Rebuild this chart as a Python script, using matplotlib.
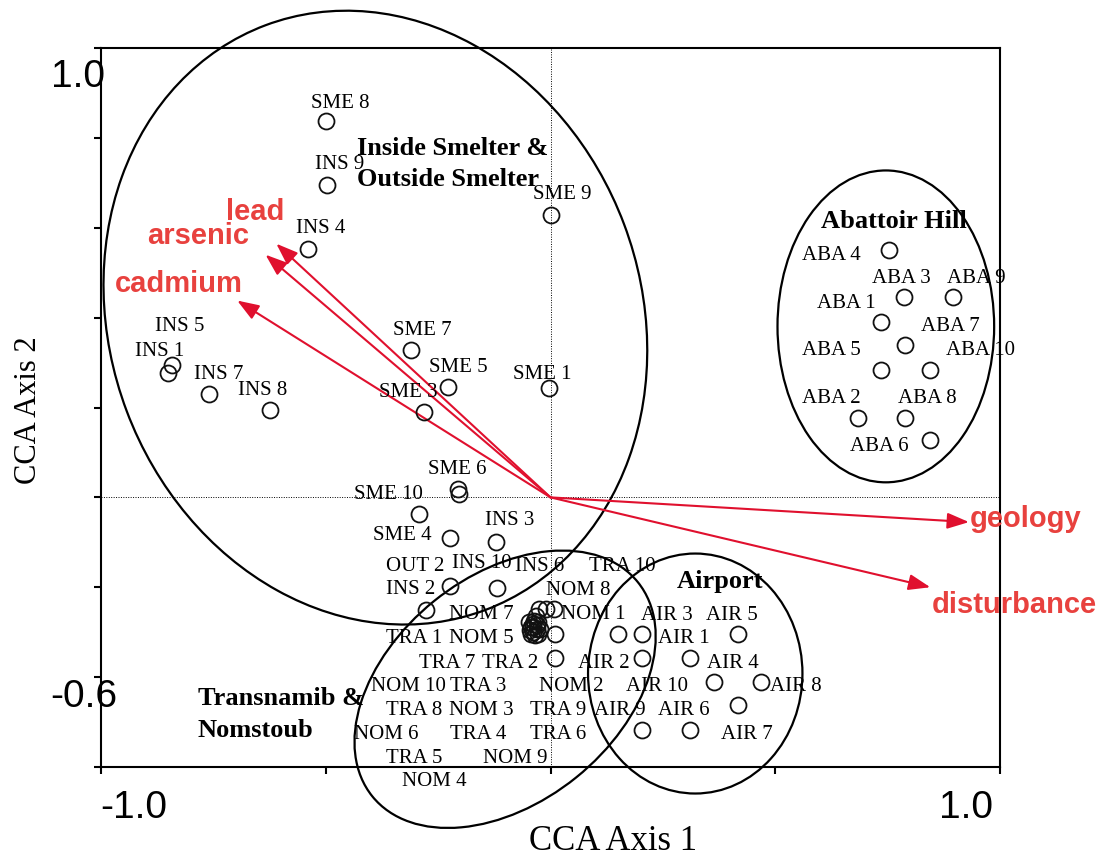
import matplotlib
matplotlib.use('Agg')
import matplotlib.pyplot as plt
from matplotlib.patches import Ellipse

# ---------------- data (CCA axis 1, CCA axis 2) ----------------
sme_names = ['SME 1', 'SME 3', 'SME 4', 'SME 5', 'SME 6', 'SME 7', 'SME 8', 'SME 9', 'SME 10']
sme_ax1 = [-0.003, -0.281, -0.293, -0.228, -0.205, -0.310, -0.500, 0.000, -0.203]
sme_ax2 = [0.243, 0.191, -0.038, 0.245, 0.019, 0.327, 0.837, 0.628, 0.008]

ins_names = ['INS 1', 'INS 2', 'INS 3', 'INS 4', 'INS 5', 'INS 6', 'INS 7', 'INS 8', 'INS 9', 'INS 10']
ins_ax1 = [-0.851, -0.276, -0.121, -0.539, -0.841, -0.119, -0.760, -0.625, -0.497, -0.223]
ins_ax2 = [0.277, -0.251, -0.099, 0.553, 0.294, -0.201, 0.229, 0.194, 0.695, -0.198]

out_names = ['OUT 2']
out_ax1 = [-0.223]
out_ax2 = [-0.090]

tra_names = ['TRA 1', 'TRA 2', 'TRA 3', 'TRA 4', 'TRA 5', 'TRA 6', 'TRA 7', 'TRA 8', 'TRA 9', 'TRA 10']
tra_ax1 = [-0.033, -0.043, -0.043, -0.038, -0.048, -0.027, -0.040, -0.034, -0.023, 0.007]
tra_ax2 = [-0.265, -0.289, -0.303, -0.300, -0.278, -0.277, -0.281, -0.307, -0.294, -0.249]

nom_names = ['NOM 1', 'NOM 2', 'NOM 3', 'NOM 4', 'NOM 5', 'NOM 6', 'NOM 7', 'NOM 8', 'NOM 9', 'NOM 10']
nom_ax1 = [0.010, 0.010, -0.027, -0.039, -0.036, -0.031, -0.026, -0.010, -0.030, -0.046]
nom_ax2 = [-0.305, -0.357, -0.303, -0.289, -0.274, -0.285, -0.249, -0.249, -0.292, -0.296]

air_names = ['AIR 1', 'AIR 2', 'AIR 3', 'AIR 4', 'AIR 5', 'AIR 6', 'AIR 7', 'AIR 8', 'AIR 9', 'AIR 10']
air_ax1 = [0.310, 0.150, 0.204, 0.364, 0.417, 0.310, 0.417, 0.469, 0.204, 0.204]
air_ax2 = [-0.357, -0.305, -0.305, -0.411, -0.305, -0.517, -0.463, -0.411, -0.517, -0.357]

aba_names = ['ABA 1', 'ABA 2', 'ABA 3', 'ABA 4', 'ABA 5', 'ABA 6', 'ABA 7', 'ABA 8', 'ABA 9', 'ABA 10']
aba_ax1 = [0.735, 0.683, 0.787, 0.752, 0.735, 0.844, 0.789, 0.789, 0.896, 0.844]
aba_ax2 = [0.390, 0.177, 0.446, 0.551, 0.284, 0.127, 0.338, 0.177, 0.446, 0.284]

env_names = ['lead', 'arsenic', 'cadmium', 'geology', 'disturbance']
env_ax1 = [-0.610, -0.634, -0.697, 0.931, 0.845]
env_ax2 = [0.5645, 0.540, 0.438, -0.055, -0.200]

# ---------------- layout (label offsets in pixels: dx right, dy up) ----------------
label_offsets = {
    'SME 8': (14.7, 18), 'INS 9': (12.6, 20.7), 'SME 9': (11.4, 20.4), 'INS 4': (12.5, 20.2),
    'SME 7': (11, 20), 'SME 5': (10.6, 19.4), 'SME 1': (-6.6, 14), 'SME 3': (-15.7, 19.3),
    'INS 5': (7.6, 39), 'INS 1': (-8, 21), 'INS 7': (10, 20), 'INS 8': (-7.3, 20),
    'SME 6': (-1.3, 19.3), 'SME 10': (-70.7, -0.7), 'SME 4': (-16.6, -20.7),
    'OUT 2': (-35, -28.7), 'INS 3': (14, 21.7), 'INS 10': (31.7, 22.7), 'INS 6': (42.6, 21.3),
    'INS 2': (-16, 20.4),
    'TRA 10': (68.2, 43), 'NOM 8': (32.3, 19), 'NOM 7': (-57.3, -5), 'NOM 1': (38.3, 20),
    'NOM 2': (16.7, -28.7),
    'TRA 1': (-121.7, -22.3), 'NOM 5': (-52.6, -18.3), 'TRA 7': (-85, -39.4), 'TRA 2': (-21, -36),
    'NOM 10': (-121.7, -56), 'TRA 3': (-52.7, -52.7), 'TRA 8': (-121, -75), 'NOM 3': (-56.6, -76.7),
    'TRA 9': (18.3, -80.7), 'NOM 6': (-150, -109), 'TRA 4': (-55, -102.3), 'TRA 6': (20, -112.3),
    'TRA 5': (-115, -136.3), 'NOM 9': (-22, -130.3), 'NOM 4': (-99, -154.7),
    'AIR 1': (-6, 19), 'AIR 2': (-14.3, -28.7), 'AIR 3': (25, 19), 'AIR 4': (18.4, 19),
    'AIR 5': (-5.6, 19), 'AIR 6': (-6, 19.3), 'AIR 7': (9, -29), 'AIR 8': (34.3, -4.3),
    'AIR 9': (-22.3, 19.3), 'AIR 10': (15, -28.7),
    'ABA 4': (-57.6, -5.7), 'ABA 3': (-3.3, 18.4), 'ABA 9': (22.7, 18.4), 'ABA 1': (-34.4, 19),
    'ABA 7': (45.7, 19), 'ABA 5': (-50, 19.3), 'ABA 10': (51, 19.3), 'ABA 2': (-26.6, 19),
    'ABA 8': (22.3, 19), 'ABA 6': (-50.7, -6),
}
env_label_pos = {
    'lead': (-0.656, 0.636), 'arsenic': (-0.785, 0.581), 'cadmium': (-0.828, 0.4755),
    'geology': (1.057, -0.0474), 'disturbance': (1.031, -0.240),
}

SERIF = 'Liberation Serif'
SANS = 'Liberation Sans'
ARROW_RED = '#e0102e'
TEXT_RED = '#e8413e'

fig = plt.figure(figsize=(11.03, 8.60), dpi=100)
ax = fig.add_axes([101 / 1103, 1 - 767 / 860, 899 / 1103, 719 / 860])
ax.set_xlim(-1.0, 1.0)
ax.set_ylim(-0.6, 1.0)

for s in ax.spines.values():
    s.set_linewidth(1.5)
ax.set_xticks([-1.0, -0.5, 0.0, 0.5, 1.0])
ax.set_yticks([-0.6, -0.4, -0.2, 0.0, 0.2, 0.4, 0.6, 0.8, 1.0])
ax.tick_params(direction='out', length=5, width=1.5, labelbottom=False, labelleft=False)

# dotted origin lines
ax.axhline(0, color='black', lw=0.7, ls=(0, (1, 1.5)), zorder=1)
ax.axvline(0, color='black', lw=0.7, ls=(0, (1, 1.5)), zorder=1)

# group ellipses
ell_kw = dict(fill=False, lw=1.6, edgecolor='black', clip_on=False, zorder=2)
ax.add_patch(Ellipse((-0.3896, 0.400), 1.390, 1.182, angle=-69.4, **ell_kw))
ax.add_patch(Ellipse((0.746, 0.3805), 0.482, 0.694, angle=0, **ell_kw))
ax.add_patch(Ellipse((0.322, -0.392), 0.477, 0.534, angle=0, **ell_kw))
ax.add_patch(Ellipse((-0.101, -0.427), 0.759, 0.504, angle=38.9, **ell_kw))

# environmental arrows
for name, x, y in zip(env_names, env_ax1, env_ax2):
    ax.annotate('', xy=(x, y), xytext=(0, 0),
                arrowprops=dict(arrowstyle='-|>,head_length=0.6,head_width=0.22',
                                color=ARROW_RED, lw=1.5, mutation_scale=22,
                                shrinkA=0, shrinkB=0), zorder=3)
    lx, ly = env_label_pos[name]
    ax.text(lx, ly, name, color=TEXT_RED, fontsize=21, fontweight='bold', family=SANS,
            ha='center', va='center', zorder=5, clip_on=False)

# sample points and labels
groups = [
    (sme_names, sme_ax1, sme_ax2), (ins_names, ins_ax1, ins_ax2), (out_names, out_ax1, out_ax2),
    (tra_names, tra_ax1, tra_ax2), (nom_names, nom_ax1, nom_ax2), (air_names, air_ax1, air_ax2),
    (aba_names, aba_ax1, aba_ax2),
]
for names, xs, ys in groups:
    ax.plot(xs, ys, ls='none', marker='o', ms=11.5, mfc='none', mec='#111111', mew=1.3,
            zorder=4, clip_on=False)
    for n, x, y in zip(names, xs, ys):
        dx, dy = label_offsets[n]
        ax.annotate(n, xy=(x, y), xytext=(dx, dy), textcoords='offset pixels',
                    ha='center', va='center', fontsize=15, family=SERIF, color='black',
                    zorder=5, annotation_clip=False)

# group titles
gkw = dict(fontsize=19, fontweight='bold', family=SERIF, color='black', zorder=5)
ax.text(-0.4295, 0.7766, 'Inside Smelter &', ha='left', va='center', **gkw)
ax.text(-0.4295, 0.7076, 'Outside Smelter', ha='left', va='center', **gkw)
ax.text(0.7647, 0.6148, 'Abattoir Hill', ha='center', va='center', **gkw)
ax.text(0.3778, -0.1869, 'Airport', ha='center', va='center', **gkw)
ax.text(-0.7847, -0.4473, 'Transnamib &', ha='left', va='center', **gkw)
ax.text(-0.7847, -0.5185, 'Nomstoub', ha='left', va='center', **gkw)

# axis end labels (CanoDraw style)
tkw = dict(fontsize=28, family=SANS, color='black')
fig.text(78 / 1103, 1 - 77 / 860, '1.0', ha='center', va='center', **tkw)
fig.text(84 / 1103, 1 - 697 / 860, '-0.6', ha='center', va='center', **tkw)
fig.text(134 / 1103, 1 - 808 / 860, '-1.0', ha='center', va='center', **tkw)
fig.text(966 / 1103, 1 - 808 / 860, '1.0', ha='center', va='center', **tkw)

# axis titles
fig.text(613 / 1103, 1 - 841 / 860, 'CCA Axis 1', ha='center', va='center',
         fontsize=25, family=SERIF)
fig.text(29 / 1103, 1 - 410 / 860, 'CCA Axis 2', ha='center', va='center',
         fontsize=22, family=SERIF, rotation=90)

fig.savefig('out.png', dpi=100)
